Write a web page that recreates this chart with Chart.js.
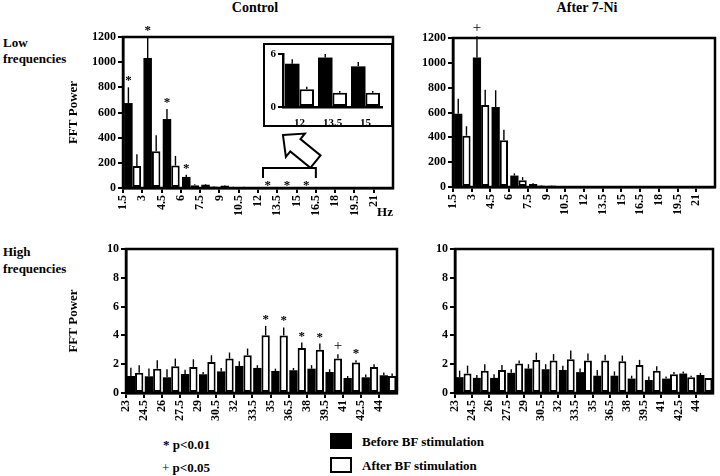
<!DOCTYPE html>
<html>
<head>
<meta charset="utf-8">
<script src="https://cdn.jsdelivr.net/npm/chart.js@4.4.0/dist/chart.umd.min.js"></script>
<style>
body { margin: 0; background: #fff; width: 720px; height: 476px; position: relative; overflow: hidden;
       font-family: 'Liberation Serif', 'Times New Roman', serif; font-weight: bold; color: #000; }
canvas { position: absolute; }
.t { position: absolute; white-space: nowrap; line-height: 1; }
.c { transform: translate(-50%, -50%); }
.l { transform: translateY(-50%); }
#insetBox { position: absolute; left: 263px; top: 43px; width: 130px; height: 84px; box-sizing: border-box;
            border: 2.5px solid #000; background: #fff; }
.key { position: absolute; left: 330px; width: 22px; height: 16px; box-sizing: border-box; }
</style>
</head>
<body>

<div class="t c" style="left:255px;top:8px;font-size:14px">Control</div>
<div class="t c" style="left:587px;top:8px;font-size:14px">After 7-Ni</div>
<div class="t l" style="left:3px;top:42px;font-size:13px">Low</div>
<div class="t l" style="left:3px;top:58px;font-size:13px">frequencies</div>
<div class="t l" style="left:3px;top:251px;font-size:13px">High</div>
<div class="t l" style="left:3px;top:268px;font-size:13px">frequencies</div>

<canvas id="ctrlLow" width="338" height="210" style="left:62px;top:15px"></canvas>
<canvas id="niLow" width="320" height="210" style="left:400px;top:15px"></canvas>
<canvas id="ctrlHigh" width="338" height="190" style="left:62px;top:238px"></canvas>
<canvas id="niHigh" width="320" height="190" style="left:400px;top:238px"></canvas>

<div id="insetBox"></div>
<canvas id="inset" width="126" height="80" style="left:265px;top:45px"></canvas>

<div class="t c" style="left:385px;top:211px;font-size:13px">Hz</div>

<div class="t l" style="left:163px;top:444px;font-size:13px">* p&lt;0.01</div>
<div class="t l" style="left:162px;top:467px;font-size:13px"><span style="font-weight:normal">+</span> p&lt;0.05</div>
<div class="key" style="top:433px;background:#000"></div>
<div class="t l" style="left:362px;top:441px;font-size:13px">Before BF stimulation</div>
<div class="key" style="top:457px;border:2px solid #000;background:#fff"></div>
<div class="t l" style="left:362px;top:465px;font-size:13px">After BF stimulation</div>

<script>
// Frequency bins (Hz), each label is the start of a 1.5 Hz bin
const lowFreqs = [1.5, 3, 4.5, 6, 7.5, 9, 10.5, 12, 13.5, 15, 16.5, 18, 19.5, 21];
const highFreqs = [23, 24.5, 26, 27.5, 29, 30.5, 32, 33.5, 35, 36.5, 38, 39.5, 41, 42.5, 44];

const lowTicks = [0, 200, 400, 600, 800, 1000, 1200];
const highTicks = [0, 2, 4, 6, 8, 10];
const insetTicks = [0, 6];

// Control, low frequencies
const ctrlLowBefore    = [675, 1033, 548, 88, 26, 18, 8, 4.9, 5.6, 4.6, 3, 2.5, 2, 2];
const ctrlLowBeforeErr = [800, 1200, 628, 105, 32, 22, 10, 5.4, 6.0, 5.1, 4, 3, 2.5, 2.5];
const ctrlLowAfter     = [175, 292, 178, 22, 12, 8, 4, 2.0, 1.6, 1.6, 1.5, 1.2, 1, 1];
const ctrlLowAfterErr  = [268, 420, 255, 30, 16, 10, 5, 2.3, 1.8, 1.8, 2, 1.5, 1.2, 1.2];
const ctrlLowMarks     = ['*', '*', '*', '*', '', '', '', '', '', '', '', '', '', ''];
const ctrlLowZoomMarks = ['', '', '', '', '', '', '', '*', '*', '*', '', '', '', ''];

// After 7-Ni, low frequencies
const niLowBefore    = [590, 1042, 644, 92, 24, 10, 6, 3, 3, 2, 2, 1.5, 1.5, 1.5];
const niLowBeforeErr = [711, 1215, 779, 110, 30, 13, 8, 4, 4, 3, 3, 2, 2, 2];
const niLowAfter     = [413, 660, 376, 55, 12, 6, 4, 2, 2, 1.5, 1.5, 1, 1, 1];
const niLowAfterErr  = [489, 784, 462, 80, 16, 8, 5, 3, 3, 2, 2, 1.5, 1.5, 1.5];
const niLowMarks     = ['', '+', '', '', '', '', '', '', '', '', '', '', '', ''];

// Control, high frequencies
const ctrlHighBefore    = [1.18, 1.16, 1.09, 1.32, 1.3, 1.5, 1.88, 1.74, 1.53, 1.58, 1.69, 1.46, 1.04, 1.09, 1.23];
const ctrlHighBeforeErr = [1.76, 1.7, 1.65, 1.62, 1.46, 1.74, 2.2, 1.93, 1.69, 1.74, 1.93, 1.65, 1.18, 1.28, 1.42];
const ctrlHighAfter     = [1.41, 1.69, 1.86, 1.81, 2.16, 2.39, 2.62, 4.01, 4.0, 3.13, 3.0, 2.39, 2.11, 1.81, 1.18];
const ctrlHighAfterErr  = [1.93, 2.27, 2.39, 2.34, 2.62, 2.81, 3.09, 4.66, 4.55, 3.5, 3.43, 2.69, 2.27, 2.0, 1.35];
const ctrlHighMarks     = ['', '', '', '', '', '', '', '*', '*', '*', '*', '+', '*', '', ''];

// After 7-Ni, high frequencies
const niHighBefore    = [1.1, 1.05, 1.05, 1.4, 1.7, 1.65, 1.6, 1.45, 1.2, 1.2, 1.0, 0.9, 1.0, 1.35, 1.25];
const niHighBeforeErr = [1.55, 1.25, 1.3, 1.65, 2.0, 2.0, 1.9, 1.7, 1.6, 1.5, 1.2, 1.15, 1.15, 1.5, 1.4];
const niHighAfter     = [1.35, 1.55, 1.6, 2.05, 2.3, 2.25, 2.35, 2.25, 2.25, 2.2, 1.95, 1.55, 1.3, 1.1, 1.05];
const niHighAfterErr  = [1.9, 2.0, 1.95, 2.25, 2.8, 2.7, 2.95, 2.75, 2.65, 2.6, 2.3, 1.85, 1.45, 1.2, 1.05];

const FONT = "'Liberation Serif', 'Times New Roman', serif";
Chart.defaults.font.family = FONT;
Chart.defaults.font.weight = 'bold';
Chart.defaults.color = '#000';
Chart.defaults.animation = false;

// box round the plot area
const frame = {
    id: 'frame',
    afterDraw(chart) {
        const { ctx, chartArea: a } = chart;
        ctx.save();
        ctx.lineWidth = 2.5;
        ctx.strokeStyle = '#000';
        ctx.strokeRect(a.left, a.top, a.right - a.left, a.bottom - a.top);
        ctx.restore();
    }
};

// upper error bars plus the significance signs above them
const errorBars = {
    id: 'errorBars',
    afterDatasetsDraw(chart) {
        const { ctx } = chart;
        const y = chart.scales.y;
        ctx.save();
        ctx.strokeStyle = '#000';
        ctx.fillStyle = '#000';
        ctx.lineWidth = 1.4;
        ctx.textAlign = 'center';
        ctx.textBaseline = 'alphabetic';
        chart.data.datasets.forEach((ds, i) => {
            chart.getDatasetMeta(i).data.forEach((bar, j) => {
                const top = y.getPixelForValue(ds.errTop[j]);
                ctx.beginPath();
                ctx.moveTo(bar.x, bar.y);
                ctx.lineTo(bar.x, top);
                ctx.stroke();
                const mark = ds.marks ? ds.marks[j] : '';
                if (mark === '*') {
                    ctx.font = 'bold 13px ' + FONT;
                    ctx.fillText(mark, bar.x, top - 3);
                } else if (mark === '+') {
                    ctx.font = '15px ' + FONT;
                    ctx.fillText(mark, bar.x, top - 4);
                }
            });
        });
        ctx.restore();
    }
};

// bracket with stars under it and the arrow pointing to the inset
const zoomBracket = {
    id: 'zoomBracket',
    afterDraw(chart) {
        const { ctx, chartArea: a } = chart;
        const x = chart.scales.x, y = chart.scales.y;
        const step = lowFreqs[1] - lowFreqs[0];
        const idx = ctrlLowZoomMarks.map((m, i) => m ? i : -1).filter(i => i >= 0);
        const x0 = x.getPixelForValue(lowFreqs[idx[0]]) + 5;
        const x1 = x.getPixelForValue(lowFreqs[idx[idx.length - 1]] + step);
        const base = y.getPixelForValue(0);
        ctx.save();
        ctx.strokeStyle = '#000';
        ctx.fillStyle = '#000';
        ctx.lineWidth = 2;
        ctx.beginPath();
        ctx.moveTo(x0, base - 10);
        ctx.lineTo(x0, base - 20);
        ctx.lineTo(x1, base - 20);
        ctx.lineTo(x1, base - 10);
        ctx.stroke();
        ctx.font = 'bold 13px ' + FONT;
        ctx.textAlign = 'center';
        idx.forEach(i => ctx.fillText(ctrlLowZoomMarks[i], x.getPixelForValue(lowFreqs[i] + step / 2), base + 1));

        // hollow block arrow
        ctx.translate(a.left + 177, a.top + 112);
        ctx.rotate(-0.885);
        ctx.beginPath();
        ctx.moveTo(0, -22);
        ctx.lineTo(15, -6);
        ctx.lineTo(8, -6);
        ctx.lineTo(8, 20);
        ctx.lineTo(-8, 20);
        ctx.lineTo(-8, -6);
        ctx.lineTo(-15, -6);
        ctx.closePath();
        ctx.fillStyle = '#fff';
        ctx.fill();
        ctx.stroke();
        ctx.restore();
    }
};

function binData(freqs, values) {
    const half = (freqs[1] - freqs[0]) / 2;
    return freqs.map((f, i) => ({ x: f + half, y: values[i] }));
}

function axisLine() {
    return {
        grid: { drawOnChartArea: false, drawTicks: true, tickLength: 5, color: '#000', lineWidth: 2, offset: false },
        border: { display: true, color: '#000', width: 2.5 }
    };
}

function panel(id, cfg) {
    const step = cfg.freqs[1] - cfg.freqs[0];
    const common = { categoryPercentage: cfg.catPct, barPercentage: 1 };
    return new Chart(document.getElementById(id), {
        type: 'bar',
        data: {
            datasets: [
                Object.assign({
                    label: 'Before BF stimulation',
                    data: binData(cfg.freqs, cfg.before),
                    errTop: cfg.beforeErr,
                    marks: cfg.beforeMarks,
                    backgroundColor: '#000',
                    borderWidth: 0
                }, common),
                Object.assign({
                    label: 'After BF stimulation',
                    data: binData(cfg.freqs, cfg.after),
                    errTop: cfg.afterErr,
                    marks: cfg.afterMarks,
                    backgroundColor: '#fff',
                    borderColor: '#000',
                    borderWidth: 2,
                    borderSkipped: false
                }, common)
            ]
        },
        options: {
            responsive: false,
            layout: { padding: cfg.padding },
            plugins: { legend: { display: false }, tooltip: { enabled: false } },
            scales: {
                x: Object.assign({
                    type: 'linear',
                    offset: false,
                    min: cfg.freqs[0],
                    max: cfg.freqs[cfg.freqs.length - 1] + step,
                    afterBuildTicks: s => { s.ticks = cfg.freqs.map(v => ({ value: v })); },
                    afterFit: s => { s.height = cfg.xHeight; },
                    ticks: { autoSkip: false, minRotation: 90, maxRotation: 90, font: { size: 12 }, padding: 2,
                             callback: v => String(v) }
                }, axisLine()),
                y: Object.assign({
                    min: 0,
                    max: cfg.yTicks[cfg.yTicks.length - 1],
                    afterBuildTicks: s => { s.ticks = cfg.yTicks.map(v => ({ value: v })); },
                    afterFit: s => { s.width = cfg.yWidth; },
                    ticks: { font: { size: 12 }, padding: 2, callback: v => String(v) },
                    title: { display: !!cfg.yTitle, text: cfg.yTitle || '', font: { size: 13 }, padding: { top: 4, bottom: 0 } }
                }, axisLine())
            }
        },
        plugins: [frame, errorBars].concat(cfg.extra || [])
    });
}

panel('ctrlLow', {
    freqs: lowFreqs, before: ctrlLowBefore, beforeErr: ctrlLowBeforeErr, beforeMarks: ctrlLowMarks,
    after: ctrlLowAfter, afterErr: ctrlLowAfterErr, afterMarks: [],
    yTicks: lowTicks, yTitle: 'FFT Power', yWidth: 61, xHeight: 37, catPct: 0.88,
    padding: { top: 22, right: 7, left: 0, bottom: 0 }, extra: [zoomBracket]
});
panel('niLow', {
    freqs: lowFreqs, before: niLowBefore, beforeErr: niLowBeforeErr, beforeMarks: niLowMarks,
    after: niLowAfter, afterErr: niLowAfterErr, afterMarks: [],
    yTicks: lowTicks, yWidth: 53, xHeight: 38, catPct: 0.88,
    padding: { top: 23, right: 5, left: 0, bottom: 0 }
});
panel('ctrlHigh', {
    freqs: highFreqs, before: ctrlHighBefore, beforeErr: ctrlHighBeforeErr, beforeMarks: [],
    after: ctrlHighAfter, afterErr: ctrlHighAfterErr, afterMarks: ctrlHighMarks,
    yTicks: highTicks, yTitle: 'FFT Power', yWidth: 64, xHeight: 35, catPct: 0.92,
    padding: { top: 11, right: 3, left: 0, bottom: 0 }
});
panel('niHigh', {
    freqs: highFreqs, before: niHighBefore, beforeErr: niHighBeforeErr, beforeMarks: [],
    after: niHighAfter, afterErr: niHighAfterErr, afterMarks: [],
    yTicks: highTicks, yWidth: 55, xHeight: 35, catPct: 0.92,
    padding: { top: 11, right: 7, left: 0, bottom: 0 }
});

// inset: the three starred control bins on a 0-6 scale
const insetIdx = ctrlLowZoomMarks.map((m, i) => m ? i : -1).filter(i => i >= 0);
const pick = arr => insetIdx.map(i => arr[i]);
new Chart(document.getElementById('inset'), {
    type: 'bar',
    data: {
        labels: pick(lowFreqs).map(String),
        datasets: [
            { data: pick(ctrlLowBefore), errTop: pick(ctrlLowBeforeErr), backgroundColor: '#000', borderWidth: 0,
              categoryPercentage: 0.88, barPercentage: 1 },
            { data: pick(ctrlLowAfter), errTop: pick(ctrlLowAfterErr), backgroundColor: '#fff', borderColor: '#000',
              borderWidth: 2, borderSkipped: false, categoryPercentage: 0.88, barPercentage: 1 }
        ]
    },
    options: {
        responsive: false,
        layout: { padding: { top: 9, right: 9, left: 0, bottom: 0 } },
        plugins: { legend: { display: false }, tooltip: { enabled: false } },
        scales: {
            x: Object.assign({
                afterFit: s => { s.height = 18; },
                ticks: { font: { size: 11 }, maxRotation: 0, padding: 2 }
            }, axisLine(), { grid: { display: false } }),
            y: Object.assign({
                min: 0, max: 6,
                afterBuildTicks: s => { s.ticks = insetTicks.map(v => ({ value: v })); },
                afterFit: s => { s.width = 18; },
                ticks: { font: { size: 11 }, padding: 2 }
            }, axisLine())
        }
    },
    plugins: [errorBars]
});
</script>
</body>
</html>
